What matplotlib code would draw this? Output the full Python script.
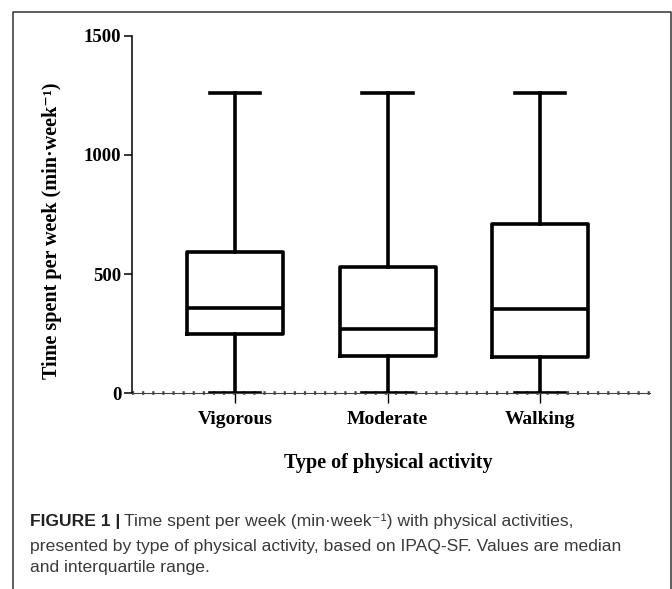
import matplotlib
matplotlib.use("Agg")
import matplotlib.pyplot as plt
from matplotlib.lines import Line2D

# Data (min/week)
categories = ["Vigorous", "Moderate", "Walking"]
whisker_low = [0, 0, 0]
q1 = [249, 158, 151]
median = [358, 270, 352]
q3 = [593, 531, 710]
whisker_high = [1260, 1260, 1260]
y_ticks = [0, 500, 1000, 1500]

W, H = 672, 589
fig = plt.figure(figsize=(W / 100, H / 100), dpi=100)

serif = ["Liberation Serif", "DejaVu Serif"]
ax = fig.add_axes([132.3 / W, 1 - 393.3 / H, (650 - 132.3) / W, (393.3 - 35.7) / H])

stats = []
for i, c in enumerate(categories):
    stats.append(dict(label=c, whislo=whisker_low[i], q1=q1[i], med=median[i],
                      q3=q3[i], whishi=whisker_high[i], fliers=[]))
positions = list(range(1, len(categories) + 1))
lw = 2.6
ax.bxp(stats, positions=positions, widths=0.63, showfliers=False,
       boxprops=dict(linewidth=lw, color="black"),
       medianprops=dict(linewidth=lw, color="black"),
       whiskerprops=dict(linewidth=lw, color="black"),
       capprops=dict(linewidth=lw, color="black"),
       capwidths=0.33)

ax.set_xlim(0.327, 3.72)
ax.set_ylim(0, 1500)
ax.set_yticks(y_ticks)
ax.set_yticklabels([str(v) for v in y_ticks], family=serif, fontweight="bold", fontsize=13.5)
ax.set_xticks(positions)
ax.set_xticklabels(categories, family=serif, fontweight="bold", fontsize=14)

for s in ["top", "right"]:
    ax.spines[s].set_visible(False)
ax.spines["left"].set_linewidth(1.1)
ax.spines["bottom"].set_linewidth(0.8)
ax.spines["bottom"].set_color("#444444")
ax.axhline(0, color="#444444", linewidth=2.6, linestyle=(0, (0.6, 2.2)), zorder=0.5, clip_on=False)

ax.tick_params(axis="y", direction="out", length=6, width=1.1, pad=2)
ax.tick_params(axis="x", direction="out", length=7.5, width=1.0, pad=5)

ax.set_ylabel("Time spent per week (min·week⁻¹)", family=serif,
              fontweight="bold", fontsize=14.5)
ax.yaxis.set_label_coords((52 - 132.3) / (650 - 132.3), (393.3 - 231) / (393.3 - 35.7))
ax.yaxis.label.set_va("center")
ax.set_xlabel("Type of physical activity", family=serif, fontweight="bold", fontsize=14.5)
ax.xaxis.set_label_coords((388 - 132.3) / (650 - 132.3), (393.3 - 463) / (393.3 - 35.7))
ax.xaxis.label.set_va("center")

# figure border (open at bottom)
border = Line2D([12.7 / W, 12.7 / W, 670.7 / W, 670.7 / W],
                [0, 1 - 11.7 / H, 1 - 11.7 / H, 0],
                transform=fig.transFigure, color="#333333", linewidth=1.1)
fig.add_artist(border)

# caption
cap_font = ["Liberation Sans Narrow", "Liberation Sans", "DejaVu Sans"]
cap_color = "#3a3a3a"
fs = 12.6
x0 = 30 / W
t1 = fig.text(x0, 1 - 526 / H, "FIGURE 1 |", fontsize=fs, family=cap_font,
              fontweight="bold", color="#222222", va="baseline")
fig.canvas.draw()
bb = t1.get_window_extent()
fig.text(bb.x1 / W + 4 / W, 1 - 526 / H,
         "Time spent per week (min·week⁻¹) with physical activities,",
         fontsize=fs, family=cap_font, color=cap_color, va="baseline")
fig.text(x0, 1 - 550.7 / H,
         "presented by type of physical activity, based on IPAQ-SF. Values are median",
         fontsize=fs, family=cap_font, color=cap_color, va="baseline")
fig.text(x0, 1 - 572 / H, "and interquartile range.",
         fontsize=fs, family=cap_font, color=cap_color, va="baseline")

fig.savefig("out.png", dpi=100)
